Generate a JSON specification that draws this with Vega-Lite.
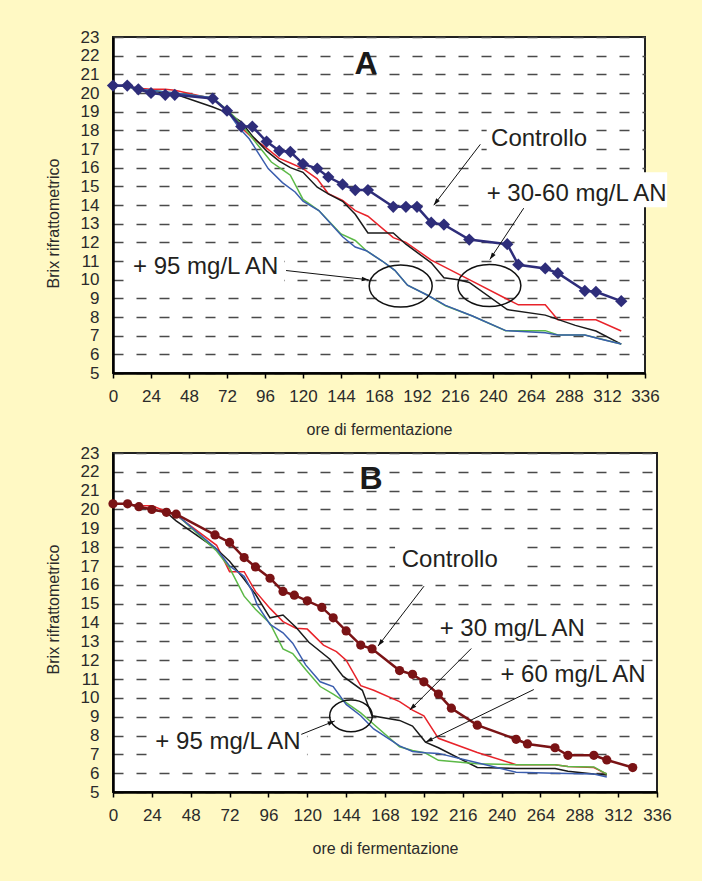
{
  "$schema": "https://vega.github.io/schema/vega-lite/v6.json",
  "background": "#FFF9C4",
  "padding": {"left": 44, "top": 27, "right": 34, "bottom": 24},
  "spacing": 5,
  "config": {
    "font": "Liberation Sans",
    "view": {"fill": "#FFFFFF", "stroke": "#222222", "strokeWidth": 2},
    "axis": {"labelFont": "Liberation Sans", "labelFontSize": 17, "labelColor": "#2B2B2B", "titleFont": "Liberation Sans", "titleFontSize": 16, "titleFontWeight": "normal", "titleColor": "#2B2B2B", "domainColor": "#000000", "domainWidth": 2.5, "labelOverlap": false, "labelBound": false, "labelFlush": false},
    "axisY": {"grid": true, "gridColor": "#4A4A4A", "gridWidth": 1.4, "gridDash": [10, 13], "ticks": false, "labelPadding": 14, "titlePadding": 19},
    "axisX": {"grid": false, "ticks": true, "tickColor": "#000000", "tickWidth": 1.5, "tickSize": 5, "labelPadding": 10, "titlePadding": 17}
  },
  "datasets": {
    "A": [
      {"s":"Controllo","h":0,"v":20.4},{"s":"Controllo","h":9,"v":20.4},{"s":"Controllo","h":16,"v":20.2},{"s":"Controllo","h":24,"v":20.0},{"s":"Controllo","h":33,"v":19.9},{"s":"Controllo","h":39,"v":19.9},{"s":"Controllo","h":63,"v":19.7},{"s":"Controllo","h":72,"v":19.05},{"s":"Controllo","h":81,"v":18.2},{"s":"Controllo","h":88,"v":18.2},{"s":"Controllo","h":97,"v":17.4},{"s":"Controllo","h":105,"v":16.9},{"s":"Controllo","h":112,"v":16.85},{"s":"Controllo","h":120,"v":16.2},{"s":"Controllo","h":129,"v":15.95},{"s":"Controllo","h":136,"v":15.5},{"s":"Controllo","h":145,"v":15.1},{"s":"Controllo","h":153,"v":14.8},{"s":"Controllo","h":161,"v":14.8},{"s":"Controllo","h":177,"v":13.9},{"s":"Controllo","h":185,"v":13.9},{"s":"Controllo","h":192,"v":13.9},{"s":"Controllo","h":201,"v":13.05},{"s":"Controllo","h":209,"v":12.95},{"s":"Controllo","h":225,"v":12.15},{"s":"Controllo","h":249,"v":11.9},{"s":"Controllo","h":256,"v":10.8},{"s":"Controllo","h":273,"v":10.6},{"s":"Controllo","h":281,"v":10.35},{"s":"Controllo","h":298,"v":9.4},{"s":"Controllo","h":305,"v":9.35},{"s":"Controllo","h":321,"v":8.85},
      {"s":"+30","h":0,"v":20.4},{"s":"+30","h":9,"v":20.35},{"s":"+30","h":16,"v":20.25},{"s":"+30","h":24,"v":20.2},{"s":"+30","h":33,"v":20.2},{"s":"+30","h":39,"v":20.15},{"s":"+30","h":63,"v":19.7},{"s":"+30","h":72,"v":19.05},{"s":"+30","h":81,"v":18.15},{"s":"+30","h":88,"v":17.6},{"s":"+30","h":97,"v":17.05},{"s":"+30","h":105,"v":16.5},{"s":"+30","h":112,"v":16.25},{"s":"+30","h":120,"v":15.95},{"s":"+30","h":129,"v":15.4},{"s":"+30","h":136,"v":14.6},{"s":"+30","h":145,"v":14.25},{"s":"+30","h":153,"v":13.7},{"s":"+30","h":161,"v":13.4},{"s":"+30","h":177,"v":12.25},{"s":"+30","h":185,"v":12.0},{"s":"+30","h":201,"v":11.05},{"s":"+30","h":209,"v":10.7},{"s":"+30","h":225,"v":10.0},{"s":"+30","h":249,"v":8.95},{"s":"+30","h":256,"v":8.65},{"s":"+30","h":273,"v":8.65},{"s":"+30","h":281,"v":7.85},{"s":"+30","h":305,"v":7.85},{"s":"+30","h":321,"v":7.25},
      {"s":"+60","h":0,"v":20.4},{"s":"+60","h":9,"v":20.35},{"s":"+60","h":16,"v":20.2},{"s":"+60","h":24,"v":20.1},{"s":"+60","h":33,"v":20.0},{"s":"+60","h":39,"v":19.95},{"s":"+60","h":63,"v":19.25},{"s":"+60","h":72,"v":18.95},{"s":"+60","h":81,"v":18.45},{"s":"+60","h":88,"v":17.7},{"s":"+60","h":97,"v":16.9},{"s":"+60","h":105,"v":16.35},{"s":"+60","h":112,"v":16.0},{"s":"+60","h":120,"v":15.75},{"s":"+60","h":129,"v":14.95},{"s":"+60","h":136,"v":14.6},{"s":"+60","h":145,"v":14.2},{"s":"+60","h":153,"v":13.5},{"s":"+60","h":161,"v":12.5},{"s":"+60","h":177,"v":12.5},{"s":"+60","h":185,"v":11.9},{"s":"+60","h":201,"v":10.9},{"s":"+60","h":209,"v":10.1},{"s":"+60","h":218,"v":10.0},{"s":"+60","h":225,"v":9.85},{"s":"+60","h":249,"v":8.4},{"s":"+60","h":273,"v":8.1},{"s":"+60","h":292,"v":7.55},{"s":"+60","h":305,"v":7.25},{"s":"+60","h":321,"v":6.55},
      {"s":"+95 a","h":0,"v":20.4},{"s":"+95 a","h":9,"v":20.35},{"s":"+95 a","h":16,"v":20.2},{"s":"+95 a","h":24,"v":20.15},{"s":"+95 a","h":33,"v":20.05},{"s":"+95 a","h":39,"v":20.0},{"s":"+95 a","h":58,"v":19.8},{"s":"+95 a","h":63,"v":19.75},{"s":"+95 a","h":72,"v":19.1},{"s":"+95 a","h":77,"v":18.7},{"s":"+95 a","h":86,"v":17.8},{"s":"+95 a","h":100,"v":16.3},{"s":"+95 a","h":107,"v":15.9},{"s":"+95 a","h":112,"v":15.6},{"s":"+95 a","h":120,"v":14.3},{"s":"+95 a","h":130,"v":13.7},{"s":"+95 a","h":144,"v":12.45},{"s":"+95 a","h":153,"v":12.1},{"s":"+95 a","h":160,"v":11.55},{"s":"+95 a","h":170,"v":11.0},{"s":"+95 a","h":178,"v":10.5},{"s":"+95 a","h":186,"v":9.7},{"s":"+95 a","h":199,"v":9.15},{"s":"+95 a","h":210,"v":8.6},{"s":"+95 a","h":227,"v":8.05},{"s":"+95 a","h":248,"v":7.27},{"s":"+95 a","h":273,"v":7.27},{"s":"+95 a","h":281,"v":7.04},{"s":"+95 a","h":298,"v":7.04},{"s":"+95 a","h":321,"v":6.55},
      {"s":"+95 b","h":0,"v":20.4},{"s":"+95 b","h":9,"v":20.35},{"s":"+95 b","h":16,"v":20.2},{"s":"+95 b","h":24,"v":20.15},{"s":"+95 b","h":33,"v":20.05},{"s":"+95 b","h":39,"v":20.0},{"s":"+95 b","h":63,"v":19.75},{"s":"+95 b","h":72,"v":19.05},{"s":"+95 b","h":80,"v":18.1},{"s":"+95 b","h":86,"v":17.55},{"s":"+95 b","h":98,"v":15.95},{"s":"+95 b","h":107,"v":15.2},{"s":"+95 b","h":115,"v":14.7},{"s":"+95 b","h":120,"v":14.2},{"s":"+95 b","h":130,"v":13.7},{"s":"+95 b","h":145,"v":12.3},{"s":"+95 b","h":153,"v":11.75},{"s":"+95 b","h":160,"v":11.55},{"s":"+95 b","h":170,"v":11.0},{"s":"+95 b","h":178,"v":10.5},{"s":"+95 b","h":186,"v":9.7},{"s":"+95 b","h":199,"v":9.15},{"s":"+95 b","h":210,"v":8.62},{"s":"+95 b","h":227,"v":8.05},{"s":"+95 b","h":248,"v":7.27},{"s":"+95 b","h":273,"v":7.15},{"s":"+95 b","h":281,"v":7.04},{"s":"+95 b","h":298,"v":7.04},{"s":"+95 b","h":309,"v":6.8},{"s":"+95 b","h":321,"v":6.55}
    ],
    "B": [
      {"s":"Controllo","h":0,"v":20.3},{"s":"Controllo","h":9,"v":20.3},{"s":"Controllo","h":16,"v":20.15},{"s":"Controllo","h":24,"v":20.0},{"s":"Controllo","h":33,"v":19.85},{"s":"Controllo","h":39,"v":19.75},{"s":"Controllo","h":63,"v":18.65},{"s":"Controllo","h":72,"v":18.25},{"s":"Controllo","h":81,"v":17.45},{"s":"Controllo","h":88,"v":16.95},{"s":"Controllo","h":97,"v":16.35},{"s":"Controllo","h":105,"v":15.65},{"s":"Controllo","h":112,"v":15.45},{"s":"Controllo","h":120,"v":15.15},{"s":"Controllo","h":129,"v":14.8},{"s":"Controllo","h":136,"v":14.25},{"s":"Controllo","h":144,"v":13.55},{"s":"Controllo","h":153,"v":12.8},{"s":"Controllo","h":160,"v":12.6},{"s":"Controllo","h":177,"v":11.45},{"s":"Controllo","h":185,"v":11.25},{"s":"Controllo","h":192,"v":10.85},{"s":"Controllo","h":201,"v":10.2},{"s":"Controllo","h":209,"v":9.45},{"s":"Controllo","h":225,"v":8.55},{"s":"Controllo","h":249,"v":7.8},{"s":"Controllo","h":256,"v":7.55},{"s":"Controllo","h":273,"v":7.35},{"s":"Controllo","h":281,"v":6.95},{"s":"Controllo","h":297,"v":6.95},{"s":"Controllo","h":305,"v":6.7},{"s":"Controllo","h":321,"v":6.3},
      {"s":"+30","h":0,"v":20.3},{"s":"+30","h":9,"v":20.3},{"s":"+30","h":16,"v":20.2},{"s":"+30","h":24,"v":20.2},{"s":"+30","h":33,"v":19.9},{"s":"+30","h":39,"v":19.7},{"s":"+30","h":64,"v":18.1},{"s":"+30","h":72,"v":16.7},{"s":"+30","h":81,"v":16.7},{"s":"+30","h":88,"v":15.65},{"s":"+30","h":97,"v":14.75},{"s":"+30","h":105,"v":14.05},{"s":"+30","h":113,"v":13.7},{"s":"+30","h":120,"v":13.65},{"s":"+30","h":130,"v":12.8},{"s":"+30","h":138,"v":12.45},{"s":"+30","h":144,"v":12.0},{"s":"+30","h":153,"v":10.65},{"s":"+30","h":161,"v":10.4},{"s":"+30","h":177,"v":9.8},{"s":"+30","h":185,"v":9.35},{"s":"+30","h":192,"v":9.05},{"s":"+30","h":201,"v":7.85},{"s":"+30","h":225,"v":7.1},{"s":"+30","h":249,"v":6.45},{"s":"+30","h":273,"v":6.45},{"s":"+30","h":281,"v":6.35},{"s":"+30","h":297,"v":6.3},{"s":"+30","h":305,"v":5.95},
      {"s":"+60","h":0,"v":20.3},{"s":"+60","h":9,"v":20.3},{"s":"+60","h":16,"v":20.15},{"s":"+60","h":24,"v":20.0},{"s":"+60","h":33,"v":19.85},{"s":"+60","h":39,"v":19.4},{"s":"+60","h":64,"v":17.9},{"s":"+60","h":72,"v":17.25},{"s":"+60","h":81,"v":16.3},{"s":"+60","h":88,"v":15.5},{"s":"+60","h":97,"v":14.25},{"s":"+60","h":105,"v":14.4},{"s":"+60","h":113,"v":13.75},{"s":"+60","h":121,"v":12.95},{"s":"+60","h":134,"v":12.05},{"s":"+60","h":142,"v":11.15},{"s":"+60","h":154,"v":10.4},{"s":"+60","h":160,"v":9.05},{"s":"+60","h":177,"v":8.8},{"s":"+60","h":185,"v":8.5},{"s":"+60","h":193,"v":7.65},{"s":"+60","h":201,"v":7.35},{"s":"+60","h":225,"v":6.3},{"s":"+60","h":249,"v":6.25},{"s":"+60","h":273,"v":6.25},{"s":"+60","h":281,"v":6.1},{"s":"+60","h":297,"v":5.95},{"s":"+60","h":305,"v":5.9},
      {"s":"+95 a","h":0,"v":20.3},{"s":"+95 a","h":9,"v":20.3},{"s":"+95 a","h":16,"v":20.15},{"s":"+95 a","h":24,"v":20.0},{"s":"+95 a","h":33,"v":19.85},{"s":"+95 a","h":39,"v":19.75},{"s":"+95 a","h":64,"v":17.8},{"s":"+95 a","h":72,"v":16.9},{"s":"+95 a","h":81,"v":15.4},{"s":"+95 a","h":88,"v":14.7},{"s":"+95 a","h":97,"v":13.95},{"s":"+95 a","h":105,"v":12.6},{"s":"+95 a","h":111,"v":12.35},{"s":"+95 a","h":119,"v":11.5},{"s":"+95 a","h":128,"v":10.6},{"s":"+95 a","h":136,"v":10.2},{"s":"+95 a","h":144,"v":9.75},{"s":"+95 a","h":153,"v":9.2},{"s":"+95 a","h":161,"v":8.6},{"s":"+95 a","h":177,"v":7.4},{"s":"+95 a","h":185,"v":7.2},{"s":"+95 a","h":193,"v":7.07},{"s":"+95 a","h":201,"v":6.68},{"s":"+95 a","h":225,"v":6.5},{"s":"+95 a","h":249,"v":6.45},{"s":"+95 a","h":273,"v":6.45},{"s":"+95 a","h":281,"v":6.35},{"s":"+95 a","h":297,"v":6.33},{"s":"+95 a","h":305,"v":5.95},
      {"s":"+95 b","h":0,"v":20.3},{"s":"+95 b","h":9,"v":20.3},{"s":"+95 b","h":16,"v":20.15},{"s":"+95 b","h":24,"v":20.0},{"s":"+95 b","h":33,"v":19.85},{"s":"+95 b","h":39,"v":19.75},{"s":"+95 b","h":64,"v":17.9},{"s":"+95 b","h":72,"v":17.0},{"s":"+95 b","h":81,"v":16.45},{"s":"+95 b","h":86,"v":15.65},{"s":"+95 b","h":89,"v":14.95},{"s":"+95 b","h":97,"v":13.9},{"s":"+95 b","h":105,"v":13.45},{"s":"+95 b","h":111,"v":12.9},{"s":"+95 b","h":119,"v":11.75},{"s":"+95 b","h":128,"v":10.85},{"s":"+95 b","h":136,"v":10.6},{"s":"+95 b","h":144,"v":9.65},{"s":"+95 b","h":153,"v":9.05},{"s":"+95 b","h":161,"v":8.35},{"s":"+95 b","h":177,"v":7.45},{"s":"+95 b","h":185,"v":7.15},{"s":"+95 b","h":193,"v":7.08},{"s":"+95 b","h":201,"v":7.05},{"s":"+95 b","h":225,"v":6.55},{"s":"+95 b","h":249,"v":6.05},{"s":"+95 b","h":273,"v":6.0},{"s":"+95 b","h":297,"v":5.95},{"s":"+95 b","h":305,"v":5.8}
    ],
    "boxA": [{"h":236,"h2":303,"v":18.23,"v2":16.83},{"h":231,"h2":350,"v":15.76,"v2":13.88},{"h":9,"h2":108,"v":11.58,"v2":9.76}],
    "ellA": [{"h":181.7,"v":9.66},{"h":237.7,"v":9.69}],
    "arrA": [{"h":232,"v":17.25,"h2":202.6,"v2":13.99},{"h":259.4,"v":13.83,"h2":238,"v2":11.08},{"h":109.3,"v":10.49,"h2":161.5,"v2":9.99}],
    "labA": [{"t":"Controllo","h":269.1,"v":17.52},{"t":"+ 30-60 mg/L AN","h":292.8,"v":14.61},{"t":"+ 95 mg/L AN","h":58.5,"v":10.68}],
    "boxB": [{"h":174.2,"h2":248.3,"v":18.23,"v2":16.69},{"h":198.9,"h2":295.2,"v":14.46,"v2":13.24},{"h":236,"h2":333.5,"v":11.91,"v2":10.53},{"h":22.2,"h2":119.8,"v":8.36,"v2":6.87}],
    "ellB": [{"h":147,"v":9.04}],
    "arrB": [{"h":192.1,"v":15.93,"h2":163.7,"v2":12.75},{"h":221.3,"v":12.62,"h2":183.3,"v2":9.35},{"h":259.9,"v":10.44,"h2":193.2,"v2":7.65},{"h":116.3,"v":8.06,"h2":136.9,"v2":8.77}],
    "labB": [{"t":"Controllo","h":208,"v":17.3},{"t":"+ 30 mg/L AN","h":246.6,"v":13.64},{"t":"+ 60 mg/L AN","h":284.1,"v":11.2},{"t":"+ 95 mg/L AN","h":71,"v":7.65}]
  },
  "vconcat": [
    {
      "width": 532,
      "height": 336,
      "encoding": {
        "x": {"field": "h", "type": "quantitative", "scale": {"domain": [0, 336], "nice": false, "zero": false}, "axis": {"title": "ore di fermentazione", "values": [0,24,48,72,96,120,144,168,192,216,240,264,288,312,336]}},
        "y": {"field": "v", "type": "quantitative", "scale": {"domain": [5, 23], "nice": false, "zero": false}, "axis": {"title": "Brix rifrattometrico", "values": [5,6,7,8,9,10,11,12,13,14,15,16,17,18,19,20,21,22,23], "titleY": 186}}
      },
      "layer": [
        {"data": {"name": "boxA"}, "mark": {"type": "rect", "fill": "#FFFFFF"}, "encoding": {"x2": {"field": "h2"}, "y2": {"field": "v2"}}},
        {"data": {"name": "A"}, "transform": [{"filter": "datum.s !== 'Controllo'"}], "mark": {"type": "line", "strokeWidth": 1.5}, "encoding": {"color": {"field": "s", "type": "nominal", "scale": {"domain": ["+30", "+60", "+95 a", "+95 b"], "range": ["#E8232A", "#1A1A1A", "#5CB947", "#3A5DAE"]}, "legend": null}}},
        {"data": {"name": "A"}, "transform": [{"filter": "datum.s === 'Controllo'"}], "mark": {"type": "line", "color": "#2E2D7A", "strokeWidth": 2.5, "point": {"shape": "diamond", "size": 150, "filled": true, "color": "#2E2D7A", "opacity": 1}}},
        {"data": {"name": "ellA"}, "mark": {"type": "point", "shape": "M-1,0A1,0.667,0,1,1,1,0A1,0.667,0,1,1,-1,0Z", "size": 3969, "filled": false, "color": "#111111", "strokeWidth": 1.5, "opacity": 1}},
        {"data": {"name": "arrA"}, "mark": {"type": "rule", "color": "#111111", "strokeWidth": 1}, "encoding": {"x2": {"field": "h2"}, "y2": {"field": "v2"}}},
        {"data": {"values": [{"h": 202.6, "v": 13.99}]}, "mark": {"type": "point", "shape": "M0,0L-0.32,1L0.32,1Z", "size": 196, "angle": 217, "filled": true, "color": "#111111", "opacity": 1}},
        {"data": {"values": [{"h": 238, "v": 11.08}]}, "mark": {"type": "point", "shape": "M0,0L-0.32,1L0.32,1Z", "size": 196, "angle": 214, "filled": true, "color": "#111111", "opacity": 1}},
        {"data": {"values": [{"h": 161.5, "v": 9.99}]}, "mark": {"type": "point", "shape": "M0,0L-0.32,1L0.32,1Z", "size": 196, "angle": 96.5, "filled": true, "color": "#111111", "opacity": 1}},
        {"data": {"name": "labA"}, "mark": {"type": "text", "font": "Liberation Sans", "fontSize": 24, "color": "#231F20", "align": "center", "baseline": "middle"}, "encoding": {"text": {"field": "t"}}},
        {"data": {"values": [{"t": "A", "h": 159.8, "v": 21.58}]}, "mark": {"type": "text", "font": "Liberation Sans", "fontSize": 32, "fontWeight": "bold", "color": "#1A1A1A", "align": "center", "baseline": "middle"}, "encoding": {"text": {"field": "t"}}}
      ]
    },
    {
      "width": 544,
      "height": 339,
      "encoding": {
        "x": {"field": "h", "type": "quantitative", "scale": {"domain": [0, 336], "nice": false, "zero": false}, "axis": {"title": "ore di fermentazione", "values": [0,24,48,72,96,120,144,168,192,216,240,264,288,312,336]}},
        "y": {"field": "v", "type": "quantitative", "scale": {"domain": [5, 23], "nice": false, "zero": false}, "axis": {"title": "Brix rifrattometrico", "values": [5,6,7,8,9,10,11,12,13,14,15,16,17,18,19,20,21,22,23], "titleY": 156}}
      },
      "layer": [
        {"data": {"name": "boxB"}, "mark": {"type": "rect", "fill": "#FFFFFF"}, "encoding": {"x2": {"field": "h2"}, "y2": {"field": "v2"}}},
        {"data": {"name": "B"}, "transform": [{"filter": "datum.s !== 'Controllo'"}], "mark": {"type": "line", "strokeWidth": 1.5}, "encoding": {"color": {"field": "s", "type": "nominal", "scale": {"domain": ["+30", "+60", "+95 a", "+95 b"], "range": ["#E8232A", "#1A1A1A", "#5CB947", "#3A5DAE"]}, "legend": null}}},
        {"data": {"name": "B"}, "transform": [{"filter": "datum.s === 'Controllo'"}], "mark": {"type": "line", "color": "#7A1315", "strokeWidth": 2.5, "point": {"shape": "circle", "size": 85, "filled": true, "color": "#7A1315", "opacity": 1}}},
        {"data": {"name": "ellB"}, "mark": {"type": "point", "shape": "M-1,0A1,0.742,0,1,1,1,0A1,0.742,0,1,1,-1,0Z", "size": 1823, "filled": false, "color": "#111111", "strokeWidth": 1.5, "opacity": 1}},
        {"data": {"name": "arrB"}, "mark": {"type": "rule", "color": "#111111", "strokeWidth": 1}, "encoding": {"x2": {"field": "h2"}, "y2": {"field": "v2"}}},
        {"data": {"values": [{"h": 163.7, "v": 12.75}]}, "mark": {"type": "point", "shape": "M0,0L-0.32,1L0.32,1Z", "size": 196, "angle": 217.4, "filled": true, "color": "#111111", "opacity": 1}},
        {"data": {"values": [{"h": 183.3, "v": 9.35}]}, "mark": {"type": "point", "shape": "M0,0L-0.32,1L0.32,1Z", "size": 196, "angle": 225, "filled": true, "color": "#111111", "opacity": 1}},
        {"data": {"values": [{"h": 193.2, "v": 7.65}]}, "mark": {"type": "point", "shape": "M0,0L-0.32,1L0.32,1Z", "size": 196, "angle": 244, "filled": true, "color": "#111111", "opacity": 1}},
        {"data": {"values": [{"h": 136.9, "v": 8.77}]}, "mark": {"type": "point", "shape": "M0,0L-0.32,1L0.32,1Z", "size": 196, "angle": 68, "filled": true, "color": "#111111", "opacity": 1}},
        {"data": {"name": "labB"}, "mark": {"type": "text", "font": "Liberation Sans", "fontSize": 24, "color": "#231F20", "align": "center", "baseline": "middle"}, "encoding": {"text": {"field": "t"}}},
        {"data": {"values": [{"t": "B", "h": 159.4, "v": 21.64}]}, "mark": {"type": "text", "font": "Liberation Sans", "fontSize": 32, "fontWeight": "bold", "color": "#1A1A1A", "align": "center", "baseline": "middle"}, "encoding": {"text": {"field": "t"}}}
      ]
    }
  ]
}
